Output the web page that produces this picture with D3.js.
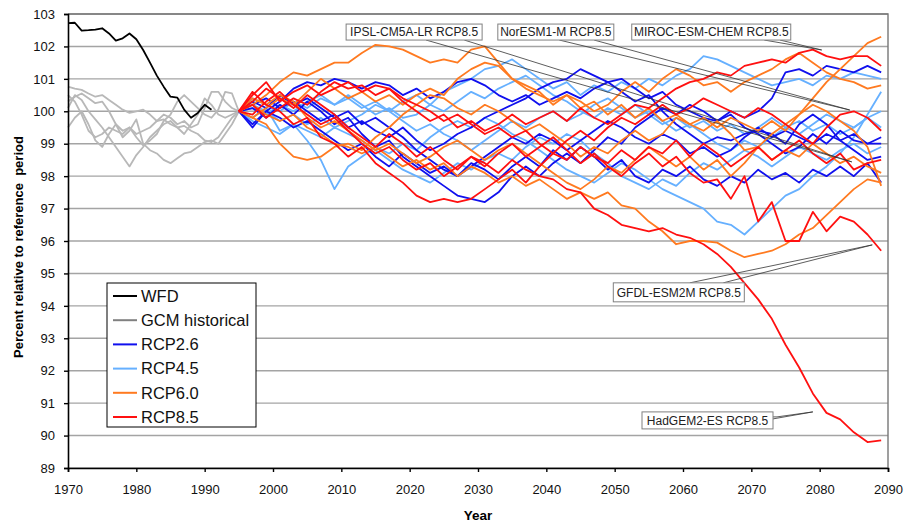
<!DOCTYPE html>
<html>
<head>
<meta charset="utf-8">
<script src="https://cdn.jsdelivr.net/npm/d3@7"></script>
<style>
  body { margin: 0; background: #fff; }
  svg { font-family: "Liberation Sans", Arial, sans-serif; }
</style>
</head>
<body>
<svg id="chart" width="906" height="524"></svg>
<script>
// ---- data ----
const wfdYears = d3.range(1970, 1992);
const wfd = [102.72, 102.73, 102.49, 102.5, 102.52, 102.56, 102.4, 102.18, 102.25, 102.4, 102.22,
  101.89, 101.5, 101.1, 100.76, 100.45, 100.42, 100.05, 99.8, 99.95, 100.2, 100.05];

const histYears = d3.range(1970, 1996);
const gcmHist1 = [100.76, 100.7, 100.66, 100.55, 100.45, 100.5, 100.35, 100.2, 100.05, 99.95, 100.0, 100.05, 99.9,
  99.7, 99.75, 99.6, 99.5, 99.55, 99.4, 99.3, 99.1, 99.05, 99.2, 99.5, 99.8, 100.0];
const gcmHist2 = [100.3, 100.45, 100.55, 100.4, 100.25, 100.3, 100.0, 99.6, 99.4, 99.5, 99.2, 98.95, 99.1,
  99.3, 99.7, 99.9, 100.3, 100.5, 100.3, 100.1, 99.9, 99.8, 100.05, 100.6, 100.55, 100.0];
const gcmHist3 = [99.5, 99.8, 100.0, 99.6, 99.1, 98.9, 99.3, 99.6, 99.2, 99.4, 99.75, 99.0, 98.8,
  98.7, 98.5, 98.4, 98.55, 98.7, 98.75, 98.9, 99.05, 99.1, 99.0, 99.3, 99.6, 100.0];
const gcmHist4 = [100.1, 100.5, 100.35, 100.0, 99.75, 99.5, 99.2, 98.9, 98.6, 98.3, 98.65, 98.9, 99.2,
  99.4, 99.6, 99.7, 99.5, 99.3, 99.6, 99.9, 100.4, 100.2, 99.9, 99.8, 99.9, 100.0];
const gcmHist5 = [100.5, 100.3, 99.9, 99.4, 99.2, 99.3, 99.5, 99.4, 99.3, 99.5, 99.3, 99.4, 99.5,
  99.7, 99.9, 99.8, 99.6, 99.7, 99.5, 99.6, 100.1, 100.6, 100.6, 100.3, 100.1, 100.0];

// scenario runs, every second year 1995..2089
const rcpYears = d3.range(1995, 2090, 2);

const rcp26A = [100.0, 99.5, 100.0, 100.3, 100.7, 100.9, 100.8, 101.0,
  100.9, 100.7, 100.9, 100.8, 100.5, 100.7, 100.4, 100.6,
  100.9, 101.0, 100.8, 100.5, 100.3, 100.5, 100.2, 100.4,
  100.6, 100.4, 100.7, 100.9, 101.0, 100.7, 100.4, 100.6,
  100.2, 100.0, 99.8, 99.7, 100.0, 99.8, 100.0, 100.4,
  101.2, 101.3, 101.1, 101.4, 101.3, 101.2, 101.4, 101.2];
const rcp26B = [100.0, 100.1, 99.8, 100.2, 99.9, 100.3, 100.0, 99.6,
  99.8, 99.3, 98.9, 99.1, 98.6, 98.3, 98.0, 97.7,
  97.4, 97.3, 97.2, 97.5, 98.0, 98.3, 98.0, 98.4,
  98.7, 98.4, 98.8, 99.2, 99.0, 99.5, 99.8, 100.1,
  99.9, 100.2, 100.0, 99.7, 99.9, 99.5, 99.3, 99.0,
  98.7, 98.9, 99.3, 99.0, 99.4, 99.1, 99.0, 99.2];
const rcp26C = [100.0, 100.2, 100.4, 100.1, 100.3, 100.0, 99.7, 99.9,
  99.5, 99.7, 99.4, 99.2, 99.5, 99.1, 98.8, 99.0,
  99.3, 99.5, 99.8, 100.0, 100.2, 100.4, 100.7, 100.9,
  101.0, 101.3, 101.1, 100.9, 100.6, 100.3, 100.5, 100.0,
  99.6, 99.3, 99.0, 99.2, 99.1, 99.3, 99.4, 99.3,
  99.0, 99.6, 99.9, 99.6, 99.1, 99.3, 99.0, 99.0];
const rcp26D = [100.0, 99.6, 100.0, 99.8, 99.5, 99.7, 99.4, 99.1,
  98.8, 99.0, 98.6, 98.3, 98.7, 98.4, 98.1, 98.3,
  98.0, 98.4, 98.2, 97.9, 98.3, 98.6, 98.3, 98.8,
  98.5, 98.9, 98.6, 98.2, 98.5, 98.0, 97.8, 98.2,
  98.0, 98.3, 97.9, 97.7, 98.0, 97.8, 98.2, 97.9,
  98.1, 97.8, 98.2, 98.0, 98.3, 98.0, 98.4, 97.8];
const rcp26E = [100.0, 100.3, 100.1, 100.5, 100.2, 100.4, 100.1, 99.8,
  100.0, 99.6, 99.8, 99.5, 99.2, 98.8, 98.5, 98.2,
  98.0, 98.3, 98.6, 98.9, 99.2, 99.0, 99.3, 99.1,
  98.8, 99.1, 99.4, 99.7, 99.5, 99.2, 99.0, 99.3,
  99.1, 98.7, 98.9, 98.6, 98.8, 99.2, 99.5, 99.2,
  99.4, 99.2, 99.0, 99.3, 99.1, 98.8, 98.5, 98.6];

const rcp45A = [100.0, 100.2, 100.0, 99.7, 99.9, 99.6, 99.8, 99.5,
  99.7, 99.9, 100.2, 100.0, 100.3, 100.5, 100.2, 100.6,
  100.8, 101.0, 101.3, 101.4, 101.6, 101.3, 101.0, 100.7,
  100.9, 100.5, 100.8, 100.6, 100.9, 100.7, 101.0, 100.8,
  101.1, 101.3, 101.7, 101.6, 101.4, 101.2, 101.0, 100.8,
  100.9, 101.0, 100.8, 101.1, 101.0, 101.2, 101.1, 101.0];
const rcp45B = [100.0, 99.8, 100.1, 99.4, 99.6, 99.1, 98.5, 97.6,
  98.3, 98.6, 98.9, 98.7, 99.0, 98.8, 99.2, 99.5,
  99.7, 99.5, 99.8, 99.6, 99.3, 99.1, 98.8, 98.5,
  98.2, 98.0, 97.8, 98.1, 98.4, 98.2, 97.9, 97.6,
  97.4, 97.2, 97.0, 96.6, 96.5, 96.2, 96.6, 97.0,
  97.4, 97.6, 98.0, 98.3, 98.7, 99.2, 99.9, 100.6];
const rcp45C = [100.0, 100.4, 100.2, 100.0, 100.3, 100.1, 100.4, 100.2,
  100.5, 100.2, 99.9, 100.1, 99.8, 99.9, 100.2, 100.0,
  100.3, 100.6, 100.4, 100.7, 100.9, 101.1, 100.8, 100.5,
  100.3, 100.0, 99.8, 100.1, 99.9, 100.2, 99.9, 99.6,
  99.8, 99.5, 99.7, 99.4, 99.6, 99.3, 99.5, 99.8,
  99.5, 99.7, 99.4, 99.6, 99.3, 99.5, 99.8, 100.0];
const rcp45D = [100.0, 99.7, 99.5, 99.3, 99.6, 99.4, 99.2, 99.5,
  99.3, 99.1, 98.8, 98.5, 98.2, 98.0, 97.8, 98.1,
  98.4, 98.2, 98.5, 98.7, 98.5, 98.9, 99.2, 99.0,
  99.3, 99.1, 98.7, 98.4, 98.0, 97.8, 97.6, 97.9,
  97.7, 98.1, 98.4, 98.2, 98.5, 98.8, 98.6, 98.3,
  98.6, 98.9, 98.7, 98.5, 98.8, 99.0, 98.7, 98.9];
const rcp45E = [100.0, 100.1, 99.9, 100.2, 100.0, 100.3, 100.5, 100.2,
  100.4, 100.1, 100.3, 100.0, 99.7, 99.4, 99.6, 99.3,
  99.1, 98.8, 99.1, 99.4, 99.7, 99.5, 99.8, 100.0,
  99.7, 99.9, 100.2, 100.4, 100.1, 99.8, 100.0, 99.7,
  99.4, 99.6, 99.3, 99.0, 98.8, 99.1, 98.9, 99.2,
  99.5, 99.3, 99.6, 99.9, 99.7, 99.5, 99.8, 99.5];

const rcp60A = [100.0, 100.2, 100.5, 100.9, 101.2, 101.1, 101.3, 101.5,
  101.5, 101.8, 102.05, 102.0, 101.9, 101.7, 101.5, 101.6,
  101.5, 101.9, 102.0, 101.5, 101.0, 100.7, 100.5, 100.3,
  100.5, 100.1, 100.3, 99.9, 100.2, 99.8, 100.1, 99.7,
  99.9, 99.6, 99.8, 99.5, 99.8, 99.6, 99.4, 99.7,
  99.4, 99.9, 100.4, 100.9, 101.3, 101.7, 102.1, 102.3];
const rcp60B = [100.0, 99.8, 100.1, 100.4, 100.2, 100.6, 101.0, 100.7,
  100.4, 100.6, 100.3, 100.5, 100.2, 100.5, 100.7, 100.5,
  101.0, 101.3, 101.5, 101.4, 101.0, 100.8, 100.6, 100.2,
  100.5, 100.3, 100.0, 100.2, 100.6, 100.9, 100.6, 101.0,
  101.3, 101.1, 100.8, 100.9, 100.6, 100.9, 101.1, 101.3,
  101.6, 101.8, 101.5, 101.2, 101.0, 100.9, 100.7, 100.8];
const rcp60C = [100.0, 99.8, 99.6, 99.0, 98.6, 98.5, 98.6, 98.9,
  99.0, 98.8, 99.2, 99.5, 99.9, 100.2, 100.5, 100.4,
  100.1, 99.9, 100.2, 100.0, 99.7, 99.4, 99.6, 99.3,
  99.0, 98.6, 98.9, 98.7, 99.1, 99.4, 99.1, 99.3,
  99.8, 99.6, 99.4, 99.7, 99.3, 98.8, 98.9, 98.5,
  98.8, 98.6, 99.0, 98.7, 98.4, 98.6, 98.3, 98.1];
const rcp60D = [100.0, 100.2, 99.9, 99.7, 99.9, 99.5, 99.3, 99.0,
  98.9, 98.7, 98.9, 98.6, 98.3, 98.5, 98.2, 98.4,
  98.0, 98.3, 98.1, 97.8, 98.0, 97.7, 97.9, 97.6,
  97.3, 97.5, 97.3, 97.5, 97.1, 97.0, 96.6, 96.3,
  95.9, 96.0, 96.0, 95.95, 95.7, 95.5, 95.6, 95.7,
  95.9, 96.2, 96.4, 96.8, 97.2, 97.6, 97.9, 97.8];
const rcp60E = [100.0, 100.4, 100.2, 100.5, 100.3, 99.8, 99.5, 99.7,
  99.4, 99.1, 98.8, 99.0, 98.7, 98.4, 98.6, 98.9,
  99.1, 98.8, 98.5, 98.8, 99.0, 98.7, 98.4, 98.1,
  97.8, 97.6, 97.9, 98.3, 98.1, 98.5, 98.9, 98.6,
  98.3, 98.6, 98.2, 98.5, 98.0, 98.4, 98.9, 99.3,
  99.6, 99.9, 100.2, 100.0, 99.7, 99.4, 98.9, 97.7];

const rcp85Miroc = [100.0, 100.5, 100.9, 100.3, 100.6, 100.8, 100.5, 100.7,
  100.9, 100.6, 100.8, 100.7, 100.3, 100.0, 99.7, 99.9,
  99.5, 99.7, 99.4, 99.6, 99.9, 99.6, 99.8, 100.0,
  99.7, 100.1, 99.8, 99.6, 99.9, 100.2, 100.1, 100.4,
  100.7, 100.9, 101.0, 101.2, 101.1, 101.4, 101.5, 101.6,
  101.5, 101.8, 101.9, 101.7, 101.6, 101.7, 101.7, 101.4];
const rcp85NorEsm = [100.0, 100.2, 99.8, 100.1, 100.4, 100.2, 100.6, 100.9,
  100.7, 100.8, 100.5, 100.7, 100.4, 100.2, 100.0, 99.7,
  99.9, 99.6, 99.3, 99.5, 99.2, 99.4, 99.0, 98.7,
  99.1, 99.4, 99.1, 99.5, 99.8, 99.6, 99.9, 100.2,
  99.9, 100.1, 100.4, 100.2, 100.0, 99.8, 100.1, 99.9,
  99.6, 99.3, 99.0, 99.5, 99.9, 100.0, 99.8, 99.4];
const rcp85Ipsl = [100.0, 100.6, 100.2, 100.0, 99.6, 99.8, 99.2, 99.0,
  98.6, 98.9, 98.4, 98.1, 97.8, 97.4, 97.2, 97.3,
  97.2, 97.3, 97.6, 97.9, 98.2, 97.8, 98.3, 98.7,
  98.5, 98.9, 98.6, 98.4, 98.8, 98.5, 98.9, 98.7,
  99.1, 98.6, 99.0, 98.7, 98.3, 98.6, 98.9, 98.5,
  98.8, 99.1, 98.7, 98.4, 98.7, 98.2, 98.4, 98.5];
const rcp85Gfdl = [100.0, 100.3, 100.7, 100.4, 100.1, 100.5, 100.2, 99.9,
  99.5, 99.2, 98.9, 99.3, 99.0, 98.6, 98.9, 98.5,
  98.2, 98.6, 98.3, 98.7, 99.0, 98.6, 98.9, 99.2,
  98.8, 98.4, 98.7, 98.3, 98.0, 98.4, 98.7, 98.3,
  98.6, 98.1, 97.8, 97.9, 97.3, 98.0, 96.6, 97.2,
  96.0, 96.0, 96.9, 96.3, 96.75, 96.6, 96.2, 95.7];
const rcp85HadGem = [100.0, 99.9, 100.3, 100.6, 100.2, 99.9, 99.6, 99.8,
  99.4, 99.0, 98.7, 98.9, 98.5, 98.2, 98.4, 98.0,
  98.3, 98.6, 98.4, 98.1, 98.5, 98.2, 98.0, 97.9,
  97.6, 97.5, 97.0, 96.8, 96.5, 96.4, 96.3, 96.4,
  96.2, 96.1, 95.9, 95.6, 95.2, 94.7, 94.2, 93.6,
  92.8, 92.1, 91.3, 90.7, 90.5, 90.1, 89.8, 89.85];

const yTicks = d3.range(89, 104);
const xTicks = d3.range(1970, 2091, 10);

const colors = { wfd: "#000000", hist: "#b8b8b8", histKey: "#808080",
  rcp26: "#1010ee", rcp45: "#66b0ff", rcp60: "#ff7a20", rcp85: "#ff1010" };

// ---- layout ----
const svg = d3.select("#chart");
const x = d3.scaleLinear().domain([1970, 2090]).range([68, 888]);
const y = d3.scaleLinear().domain([89, 103]).range([468, 14]);

// grid
svg.append("g").selectAll("line").data(yTicks).join("line")
  .attr("x1", x(1970)).attr("x2", x(2090))
  .attr("y1", d => y(d)).attr("y2", d => y(d))
  .attr("stroke", "#a4a4a4").attr("stroke-width", 1.4);

// frame top / right
svg.append("path")
  .attr("d", `M${x(1970)},${y(103)}H${x(2090)}V${y(89)}`)
  .attr("fill", "none").attr("stroke", "#777").attr("stroke-width", 1.4);

const line = d3.line().x(d => x(d[0])).y(d => y(d[1]));
const pair = (years, vals) => years.map((yr, i) => [yr, vals[i]]);

const series = [];
[gcmHist1, gcmHist2, gcmHist3, gcmHist4, gcmHist5].forEach(v => series.push({ pts: pair(histYears, v), color: colors.hist }));
[rcp45A, rcp45B, rcp45C, rcp45D, rcp45E].forEach(v => series.push({ pts: pair(rcpYears, v), color: colors.rcp45 }));
[rcp26A, rcp26B, rcp26C, rcp26D, rcp26E].forEach(v => series.push({ pts: pair(rcpYears, v), color: colors.rcp26 }));
[rcp60A, rcp60B, rcp60C, rcp60D, rcp60E].forEach(v => series.push({ pts: pair(rcpYears, v), color: colors.rcp60 }));
[rcp85Miroc, rcp85NorEsm, rcp85Ipsl, rcp85Gfdl, rcp85HadGem].forEach(v => series.push({ pts: pair(rcpYears, v), color: colors.rcp85 }));
series.push({ pts: pair(wfdYears, wfd), color: colors.wfd });

svg.append("g").selectAll("path").data(series).join("path")
  .attr("d", d => line(d.pts))
  .attr("fill", "none")
  .attr("stroke", d => d.color)
  .attr("stroke-width", 1.8)
  .attr("stroke-linejoin", "round");

// axes
const xAxis = svg.append("g").attr("transform", `translate(0,${y(89)})`)
  .call(d3.axisBottom(x).tickValues(xTicks).tickFormat(d3.format("d")).tickSizeOuter(0).tickSize(4).tickPadding(13));
const yAxis = svg.append("g").attr("transform", `translate(${x(1970)},0)`)
  .call(d3.axisLeft(y).tickValues(yTicks).tickSizeOuter(0).tickSize(4).tickPadding(9));
[xAxis, yAxis].forEach(g => {
  g.selectAll(".domain").attr("stroke", "#000").attr("stroke-width", 1.6);
  g.selectAll(".tick line").attr("stroke", "#000").attr("stroke-width", 1.4);
  g.selectAll(".tick text").attr("font-size", 13).attr("fill", "#111")
    .attr("font-family", '"Liberation Sans", Arial, sans-serif');
});

// axis titles
svg.append("text").attr("x", 478).attr("y", 520).attr("text-anchor", "middle")
  .attr("font-weight", "bold").attr("font-size", 13.5).text("Year");
svg.append("text").attr("transform", "translate(23,247) rotate(-90)").attr("text-anchor", "middle")
  .attr("font-weight", "bold").attr("font-size", 13).style("white-space", "pre")
  .text("Percent relative to reference  period");

// callouts: box corner in data units, size in px, leader bases (year) and target (year, value)
const callouts = [
  { text: "IPSL-CM5A-LR RCP8.5", at: [2010.7, 102.69], w: 136, h: 16, bases: [2022.4, 2028.0], target: [2084.7, 98.44], side: "bottom" },
  { text: "NorESM1-M RCP8.5", at: [2032.9, 102.69], w: 116, h: 16, bases: [2041.9, 2047.0], target: [2084.4, 100.04], side: "bottom" },
  { text: "MIROC-ESM-CHEM RCP8.5", at: [2052.5, 102.69], w: 159, h: 16, bases: [2071.9, 2074.2], target: [2080.3, 101.89], side: "bottom" },
  { text: "GFDL-ESM2M RCP8.5", at: [2049.8, 94.71], w: 131, h: 19, bases: [2061.0, 2065.9], target: [2087.7, 95.88], side: "top" },
  { text: "HadGEM2-ES RCP8.5", at: [2054.0, 90.73], w: 131, h: 17, bases: [], target: [2079.0, 90.73], side: "right" }
];

const co = svg.append("g");
callouts.forEach(c => {
  const bx = x(c.at[0]), by = y(c.at[1]);
  const tx = x(c.target[0]), ty = y(c.target[1]);
  const baseY = c.side === "bottom" ? by + c.h : by;
  c.bases.forEach(b => {
    co.append("line").attr("x1", x(b)).attr("y1", baseY).attr("x2", tx).attr("y2", ty)
      .attr("stroke", "#333").attr("stroke-width", 0.8);
  });
  if (c.side === "right") {
    co.append("path").attr("d", `M${bx + c.w},${by + 5}H${bx + c.w + 4}L${tx},${ty}`)
      .attr("fill", "none").attr("stroke", "#333").attr("stroke-width", 0.8);
    co.append("line").attr("x1", bx + c.w).attr("y1", by + 7).attr("x2", tx).attr("y2", ty)
      .attr("stroke", "#333").attr("stroke-width", 0.8);
  }
  co.append("rect").attr("x", bx).attr("y", by).attr("width", c.w).attr("height", c.h)
    .attr("fill", "#fff").attr("stroke", "#808080").attr("stroke-width", 1);
  co.append("text").attr("x", bx + c.w / 2).attr("y", by + c.h / 2).attr("dy", "0.36em")
    .attr("text-anchor", "middle").attr("font-size", 12).attr("fill", "#222").text(c.text);
});

// legend
const legendItems = [
  { label: "WFD", color: colors.wfd },
  { label: "GCM historical", color: colors.histKey },
  { label: "RCP2.6", color: colors.rcp26 },
  { label: "RCP4.5", color: colors.rcp45 },
  { label: "RCP6.0", color: colors.rcp60 },
  { label: "RCP8.5", color: colors.rcp85 }
];
const legend = svg.append("g").attr("transform", "translate(107,283)");
legend.append("rect").attr("width", 149).attr("height", 144)
  .attr("fill", "#fff").attr("stroke", "#000").attr("stroke-width", 1);
const li = legend.selectAll("g").data(legendItems).join("g")
  .attr("transform", (d, i) => `translate(0,${13 + i * 24.2})`);
li.append("line").attr("x1", 6).attr("x2", 30).attr("stroke", d => d.color).attr("stroke-width", 2);
li.append("text").attr("x", 34).attr("dy", "0.35em").attr("font-size", 16.5).attr("fill", "#111").text(d => d.label);
</script>
</body>
</html>
